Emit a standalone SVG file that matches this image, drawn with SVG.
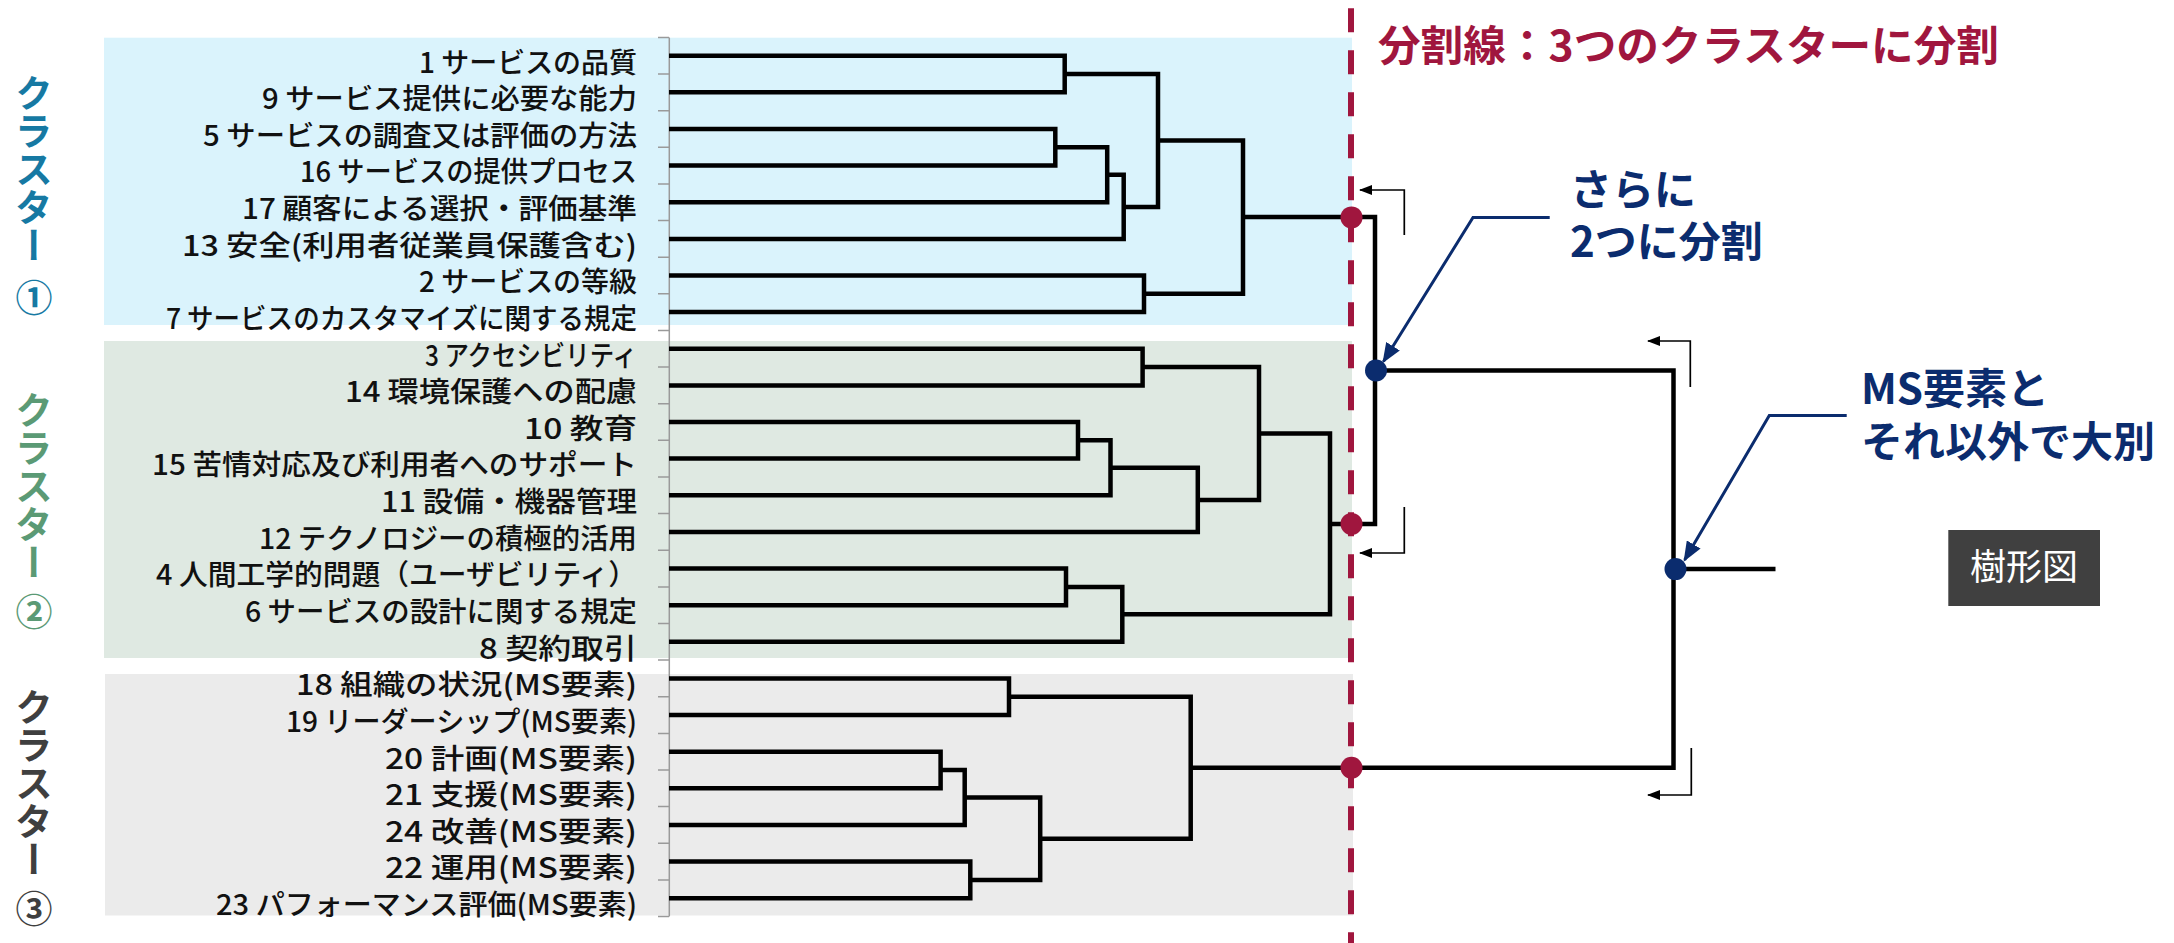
<svg xmlns="http://www.w3.org/2000/svg" width="2174" height="943" viewBox="0 0 2174 943">
  <defs>
    <style>
      .lbl { font-family: "Noto Sans CJK JP", "Noto Sans", sans-serif; font-size: 28.5px; font-weight: 500; fill: #111; text-anchor: end; }
      .clu { font-family: "Noto Sans CJK JP", sans-serif; font-size: 38px; font-weight: 700; writing-mode: vertical-rl; }
      .num { font-family: "Noto Sans CJK JP", sans-serif; font-size: 37px; font-weight: 700; text-anchor: middle; dominant-baseline: central; }
      .tree { fill: none; stroke: #000; stroke-width: 4.5; stroke-linejoin: miter; }
      .tick { stroke: #9a9a9a; stroke-width: 1.5; fill: none; }
      .cut { stroke: #A0163E; stroke-width: 6; stroke-dasharray: 24 18; }
      .dot-r { fill: #A0163E; }
      .dot-b { fill: #0B2C6E; }
      .note { font-family: "Noto Sans CJK JP", sans-serif; font-size: 42px; font-weight: 700; fill: #0B2C6E; }
      .title { font-family: "Noto Sans CJK JP", sans-serif; font-size: 42px; font-weight: 700; fill: #A0163E; }
      .call { fill: none; stroke: #0B2C6E; stroke-width: 3; marker-end: url(#hNavy); }
      .guide { fill: none; stroke: #000; stroke-width: 1.7; marker-end: url(#hBlack); }
      .c1 { fill: #1679A3; }
      .c2 { fill: #5B9A75; }
      .c3 { fill: #3F3F3F; }
    </style>
    <marker id="hNavy" markerUnits="userSpaceOnUse" markerWidth="20" markerHeight="16" refX="18" refY="8" orient="auto">
      <path d="M0,0 L20,8 L0,16 z" fill="#0B2C6E"/>
    </marker>
    <marker id="hBlack" markerUnits="userSpaceOnUse" markerWidth="13" markerHeight="10" refX="12" refY="5" orient="auto">
      <path d="M0,0 L13,5 L0,10 z" fill="#000"/>
    </marker>
  </defs>

  <rect width="2174" height="943" fill="#fff"/>

  <!-- cluster background bands -->
  <g id="bands">
    <rect x="104" y="37.7" width="1248" height="287.3" fill="#DAF3FC"/>
    <rect x="104" y="341" width="1248" height="317" fill="#DFE9E2"/>
    <rect x="105" y="674" width="1248" height="241.5" fill="#EBEBEB"/>
  </g>

  <!-- leaf axis with ticks between rows -->
  <g id="axis" class="tick">
    <line x1="669.3" y1="37.4" x2="669.3" y2="916.5"/>
    <path d="M658,37.4H669 M658,74H669 M658,110.7H669 M658,147.3H669 M658,183.9H669 M658,220.6H669 M658,257.2H669 M658,293.8H669 M658,330.4H669 M658,367.1H669 M658,403.7H669 M658,440.3H669 M658,477H669 M658,513.6H669 M658,550.2H669 M658,586.9H669 M658,623.5H669 M658,660.1H669 M658,696.8H669 M658,733.4H669 M658,770H669 M658,806.6H669 M658,843.3H669 M658,879.9H669 M658,916.5H669"/>
  </g>

  <!-- cluster captions -->
  <g id="cluster1">
    <text class="clu c1" x="34" y="74">クラスター</text>
    <text class="num c1" x="34" y="296">①</text>
  </g>
  <g id="cluster2">
    <text class="clu c2" x="34" y="391">クラスター</text>
    <text class="num c2" x="34" y="610">②</text>
  </g>
  <g id="cluster3">
    <text class="clu c3" x="34" y="688">クラスター</text>
    <text class="num c3" x="34" y="907">③</text>
  </g>

  <!-- leaf labels -->
  <g id="leaves">
    <text id="leaf-1" class="lbl" x="637" y="72.5" textLength="218" lengthAdjust="spacingAndGlyphs">1 サービスの品質</text>
    <text id="leaf-9" class="lbl" x="637" y="109.1" textLength="375" lengthAdjust="spacingAndGlyphs">9 サービス提供に必要な能力</text>
    <text id="leaf-5" class="lbl" x="637" y="145.8" textLength="434" lengthAdjust="spacingAndGlyphs">5 サービスの調査又は評価の方法</text>
    <text id="leaf-16" class="lbl" x="637" y="182.4" textLength="337" lengthAdjust="spacingAndGlyphs">16 サービスの提供プロセス</text>
    <text id="leaf-17" class="lbl" x="637" y="219" textLength="395" lengthAdjust="spacingAndGlyphs">17 顧客による選択・評価基準</text>
    <text id="leaf-13" class="lbl" x="637" y="255.7" textLength="455" lengthAdjust="spacingAndGlyphs">13 安全(利用者従業員保護含む)</text>
    <text id="leaf-2" class="lbl" x="637" y="292.3" textLength="218" lengthAdjust="spacingAndGlyphs">2 サービスの等級</text>
    <text id="leaf-7" class="lbl" x="637" y="328.9" textLength="471" lengthAdjust="spacingAndGlyphs">7 サービスのカスタマイズに関する規定</text>
    <text id="leaf-3" class="lbl" x="637" y="365.5" textLength="212" lengthAdjust="spacingAndGlyphs">3 アクセシビリティ</text>
    <text id="leaf-14" class="lbl" x="637" y="402.2" textLength="292" lengthAdjust="spacingAndGlyphs">14 環境保護への配慮</text>
    <text id="leaf-10" class="lbl" x="637" y="438.8" textLength="113" lengthAdjust="spacingAndGlyphs">10 教育</text>
    <text id="leaf-15" class="lbl" x="637" y="475.4" textLength="485" lengthAdjust="spacingAndGlyphs">15 苦情対応及び利用者へのサポート</text>
    <text id="leaf-11" class="lbl" x="637" y="512.1" textLength="256" lengthAdjust="spacingAndGlyphs">11 設備・機器管理</text>
    <text id="leaf-12" class="lbl" x="637" y="548.7" textLength="378" lengthAdjust="spacingAndGlyphs">12 テクノロジーの積極的活用</text>
    <text id="leaf-4" class="lbl" x="637" y="585.3" textLength="481" lengthAdjust="spacingAndGlyphs">4 人間工学的問題（ユーザビリティ）</text>
    <text id="leaf-6" class="lbl" x="637" y="622" textLength="392" lengthAdjust="spacingAndGlyphs">6 サービスの設計に関する規定</text>
    <text id="leaf-8" class="lbl" x="637" y="658.6" textLength="158" lengthAdjust="spacingAndGlyphs">8 契約取引</text>
    <text id="leaf-18" class="lbl" x="637" y="695.2" textLength="341" lengthAdjust="spacingAndGlyphs">18 組織の状況(MS要素)</text>
    <text id="leaf-19" class="lbl" x="637" y="731.8" textLength="351" lengthAdjust="spacingAndGlyphs">19 リーダーシップ(MS要素)</text>
    <text id="leaf-20" class="lbl" x="637" y="768.5" textLength="252" lengthAdjust="spacingAndGlyphs">20 計画(MS要素)</text>
    <text id="leaf-21" class="lbl" x="637" y="805.1" textLength="252" lengthAdjust="spacingAndGlyphs">21 支援(MS要素)</text>
    <text id="leaf-24" class="lbl" x="637" y="841.7" textLength="252" lengthAdjust="spacingAndGlyphs">24 改善(MS要素)</text>
    <text id="leaf-22" class="lbl" x="637" y="878.4" textLength="252" lengthAdjust="spacingAndGlyphs">22 運用(MS要素)</text>
    <text id="leaf-23" class="lbl" x="637" y="915" textLength="421" lengthAdjust="spacingAndGlyphs">23 パフォーマンス評価(MS要素)</text>
  </g>

  <!-- dendrogram links -->
  <g id="connectors" class="tree">
    <path d="M669,55.7H1064.7V92.3H669"/>
    <path d="M669,129H1055.3V165.6H669"/>
    <path d="M1055.3,147.3H1107.2V202.2H669"/>
    <path d="M1107.2,174.8H1123.7V238.9H669"/>
    <path d="M1064.7,74H1158V206.9H1123.7"/>
    <path d="M669,275.5H1144V312.1H669"/>
    <path d="M1158,140.4H1243V293.8H1144"/>

    <path d="M669,348.7H1142.6V385.4H669"/>
    <path d="M669,422H1078V458.6H669"/>
    <path d="M1078,440.3H1110.5V495.3H669"/>
    <path d="M1110.5,467.8H1197.8V531.9H669"/>
    <path d="M1142.6,367.1H1259V499.9H1197.8"/>
    <path d="M669,568.5H1066V605.2H669"/>
    <path d="M1066,586.9H1122.3V641.8H669"/>
    <path d="M1259,433.5H1330V614.3H1122.3"/>

    <path d="M669,678.4H1009V715H669"/>
    <path d="M669,751.7H940.6V788.3H669"/>
    <path d="M940.6,770H964.7V824.9H669"/>
    <path d="M669,861.6H970.3V898.2H669"/>
    <path d="M964.7,797.5H1040.2V879.9H970.3"/>
    <path d="M1009,696.7H1190.7V838.7H1040.2"/>

    <path d="M1243,217.1H1375V523.9H1330"/>
    <path d="M1375,370.5H1673.5V767.7H1190.7"/>
    <path d="M1673.5,569.1H1775.5"/>
  </g>

  <!-- cut line -->
  <g id="cut-line">
    <line class="cut" x1="1351" y1="8.3" x2="1351" y2="943"/>
    <text class="title" x="1378" y="60.5" textLength="621" lengthAdjust="spacingAndGlyphs">分割線：3つのクラスターに分割</text>
    <circle class="dot-r" cx="1351.5" cy="217.4" r="11"/>
    <circle class="dot-r" cx="1351.5" cy="523.9" r="11"/>
    <circle class="dot-r" cx="1351.5" cy="767.7" r="11"/>
  </g>

  <!-- upper split points -->
  <g id="split-points">
    <circle class="dot-b" cx="1376" cy="370.5" r="11"/>
    <circle class="dot-b" cx="1675.5" cy="569.1" r="11"/>
  </g>

  <!-- direction guides -->
  <g id="guides" class="guide">
    <path d="M1404.3,235V190H1360"/>
    <path d="M1404.3,507V553H1360"/>
    <path d="M1690.3,387V341H1648"/>
    <path d="M1691.3,748V795H1648"/>
  </g>

  <!-- callouts -->
  <g id="callout-split2">
    <path class="call" d="M1549.7,217.5H1473L1383.5,361.5"/>
    <text class="note" x="1570" y="205">さらに</text>
    <text class="note" x="1570" y="257">2つに分割</text>
  </g>
  <g id="callout-ms">
    <path class="call" d="M1846.7,415.5H1769.3L1684.6,560"/>
    <text class="note" x="1861" y="404">MS要素と</text>
    <text class="note" x="1861" y="457">それ以外で大別</text>
  </g>

  <g id="legend-box">
    <rect x="1948.3" y="530" width="151.7" height="76" fill="#404040"/>
    <text x="2024" y="580" text-anchor="middle" font-family="Noto Sans CJK JP, sans-serif" font-size="36" fill="#fff">樹形図</text>
  </g>
</svg>
